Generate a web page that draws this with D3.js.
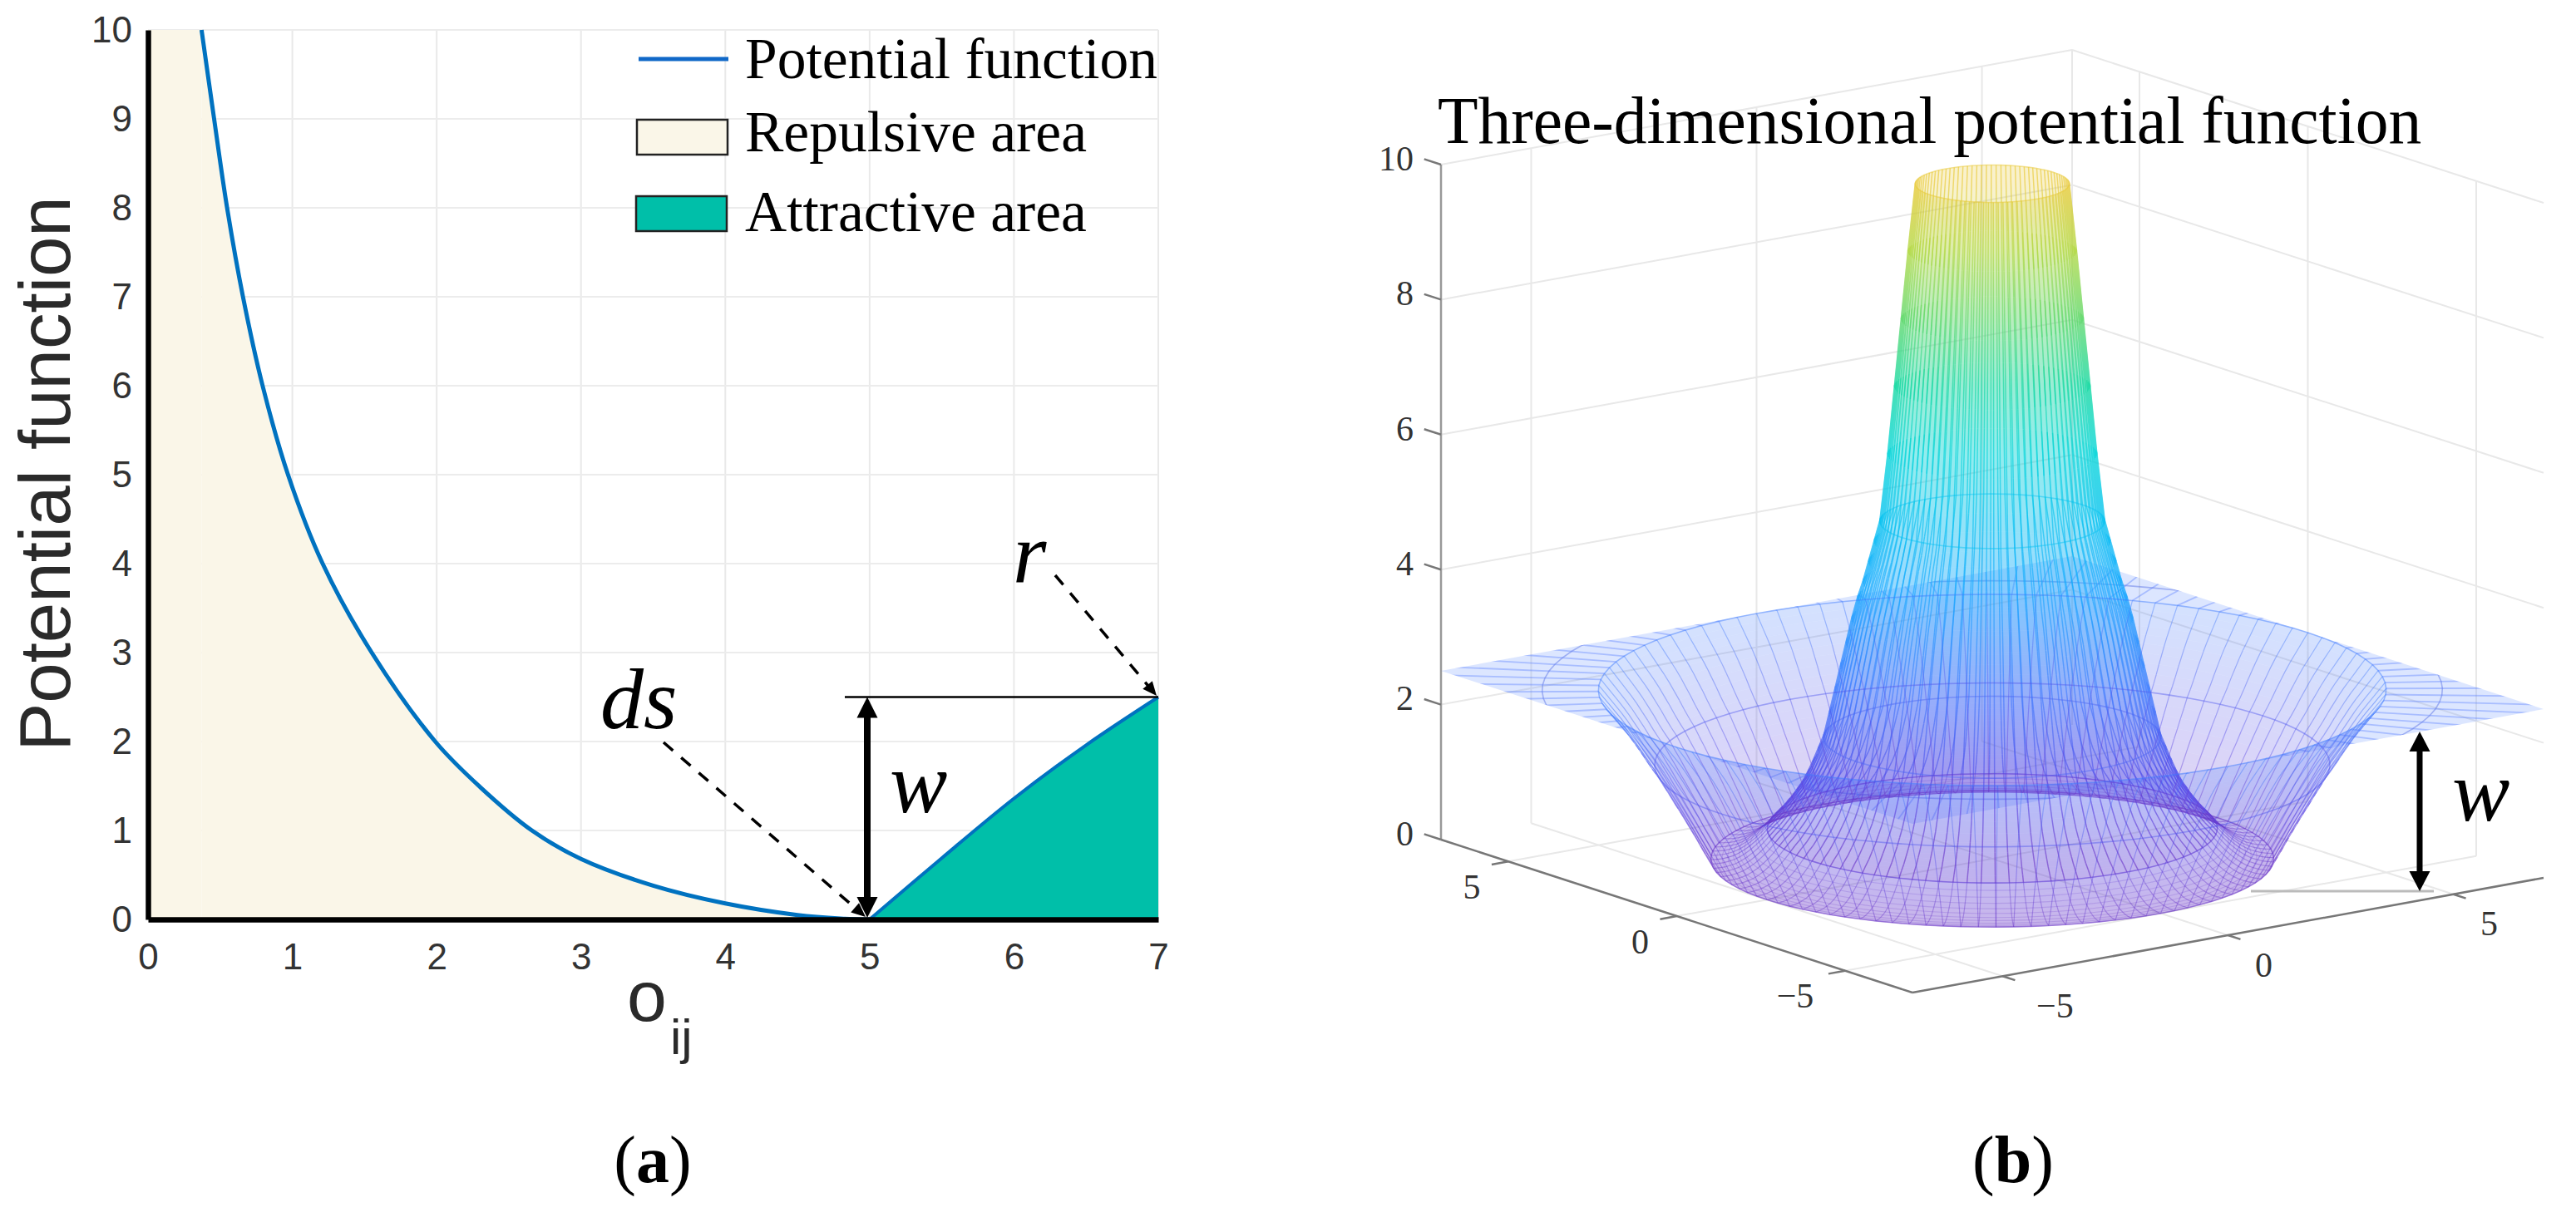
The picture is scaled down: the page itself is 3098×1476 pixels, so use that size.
<!DOCTYPE html>
<html>
<head>
    <meta charset="utf-8">
    <title>Potential function</title>
    <style type="text/css">
    html, body { margin:0; padding:0; background:#fff; }
    svg { display:block; }
    .serif { font-family:"Liberation Serif", serif; }
    .sans { font-family:"Liberation Sans", sans-serif; }
    </style>
</head>
<body>
    <script src="https://d3js.org/d3.v7.min.js"></script>
    <script>
      // panel (a): potential curve
      var repulsiveX = [0.371, 0.458, 0.548, 0.658, 0.794, 0.97, 1.21, 1.55, 1.99, 2.3, 2.66, 3, 3.5, 4, 4.5, 4.8, 5];
      var repulsiveY = [10, 9, 8, 7, 6, 5, 4, 3, 2, 1.49, 1, 0.68, 0.38, 0.18, 0.05, 0.01, 0];
      var attractiveX = [5, 5.5, 6, 6.5, 7];
      var attractiveY = [0, 0.69, 1.36, 1.96, 2.5];
      var xTicks2d = [0, 1, 2, 3, 4, 5, 6, 7];
      var yTicks2d = [0, 1, 2, 3, 4, 5, 6, 7, 8, 9, 10];
      var legendLabels = ["Potential function", "Repulsive area", "Attractive area"];

      // panel (b): radial profile of the surface, radius and height
      var neckR = [1.37, 1.5, 1.62, 1.74, 1.86, 2, 2.1, 2.2, 2.3, 2.4, 2.5, 2.6, 2.7, 2.8, 2.9, 3, 3.1, 3.2, 3.3, 3.4, 3.5, 3.6, 3.7, 3.8, 3.9, 4];
      var neckZ = [10, 9, 8, 7, 6, 5, 4.7, 4.4, 4.1, 3.85, 3.55, 3.2, 2.85, 2.5, 2.15, 1.8, 1.6, 1.4, 1.22, 1.06, 0.94, 0.82, 0.72, 0.62, 0.54, 0.45];
      var baseR = [4, 4.1, 4.2, 4.3, 4.4, 4.5, 4.6, 4.7, 4.8, 4.9, 5];
      var baseZ = [0.45, 0.36, 0.28, 0.21, 0.15, 0.1, 0.06, 0.035, 0.015, 0.005, 0];
      var wallR = [5, 5.1, 5.2, 5.3, 5.4, 5.5, 5.6, 5.7, 5.8, 5.9, 6, 6.1, 6.2, 6.3, 6.4, 6.5, 6.6, 6.7, 6.8, 6.9, 7];
      var wallZ = [0, 0.14, 0.28, 0.43, 0.57, 0.71, 0.85, 0.98, 1.12, 1.25, 1.39, 1.5, 1.62, 1.75, 1.87, 1.99, 2.1, 2.2, 2.3, 2.4, 2.5];
      var planeZ = 2.5;
      var planeOuterR = 10;
      var planeRingR = 8;
      var ringRadii = [1.37, 2, 3, 4, 5, 6, 7];
      var floorTicks = [-5, 0, 5];
      var zTicks = [0, 2, 4, 6, 8, 10];
      var colorStopsZ = [0, 1, 2.5, 4, 5, 6, 7, 8, 9, 10];
      var colorStops = ["#6a35c8", "#5548e8", "#3f7dff", "#14a8ff", "#00c0f0", "#00d4d8", "#10d8a0", "#5cd868", "#b0d840", "#e8c830"];

      var svg = d3.select("body")
          .append("svg")
          .attr("width", 3098)
          .attr("height", 1476)
          .attr("viewBox", "0 0 3098 1476");

      /* ---------- panel (a) ---------- */
      var xScale = d3.scaleLinear().domain([0, 7]).range([178, 1393]);
      var yScale = d3.scaleLinear().domain([0, 10]).range([1106, 36]);
      var left = svg.append("g");

      left.selectAll(".gridx")
          .data(xTicks2d.slice(1))
          .enter().append("line")
          .attr("x1", function(d){ return xScale(d); })
          .attr("x2", function(d){ return xScale(d); })
          .attr("y1", yScale(0))
          .attr("y2", yScale(10))
          .attr("stroke", "#e9e9e9")
          .attr("stroke-width", 2);

      left.selectAll(".gridy")
          .data(yTicks2d.slice(1))
          .enter().append("line")
          .attr("x1", xScale(0))
          .attr("x2", xScale(7))
          .attr("y1", function(d){ return yScale(d); })
          .attr("y2", function(d){ return yScale(d); })
          .attr("stroke", "#ececec")
          .attr("stroke-width", 2);

      var repulsive = repulsiveX.map(function(d, i){ return [d, repulsiveY[i]]; });
      var attractive = attractiveX.map(function(d, i){ return [d, attractiveY[i]]; });

      var area = d3.area()
          .x(function(d){ return xScale(d[0]); })
          .y0(yScale(0))
          .y1(function(d){ return yScale(d[1]); })
          .curve(d3.curveCatmullRom.alpha(0.5));

      var line = d3.line()
          .x(function(d){ return xScale(d[0]); })
          .y(function(d){ return yScale(d[1]); })
          .curve(d3.curveCatmullRom.alpha(0.5));

      left.append("rect")
          .attr("x", xScale(0))
          .attr("y", yScale(10))
          .attr("width", xScale(repulsiveX[0]) - xScale(0))
          .attr("height", yScale(0) - yScale(10))
          .attr("fill", "#faf6e8");

      left.append("path")
          .attr("d", area(repulsive))
          .attr("fill", "#faf6e8");

      left.append("path")
          .attr("d", area(attractive))
          .attr("fill", "#00bfa9");

      left.append("path")
          .attr("d", line(repulsive))
          .attr("fill", "none")
          .attr("stroke", "#0072c0")
          .attr("stroke-width", 5);

      left.append("path")
          .attr("d", line(attractive))
          .attr("fill", "none")
          .attr("stroke", "#0072c0")
          .attr("stroke-width", 4);

      // axes
      var xAxisG = left.append("g")
          .attr("transform", "translate(0," + yScale(0) + ")")
          .call(d3.axisBottom(xScale).tickValues(xTicks2d).tickSize(0).tickPadding(29).tickFormat(d3.format("d")));
      var yAxisG = left.append("g")
          .attr("transform", "translate(" + xScale(0) + ",0)")
          .call(d3.axisLeft(yScale).tickValues(yTicks2d).tickSize(0).tickPadding(19).tickFormat(d3.format("d")));

      [xAxisG, yAxisG].forEach(function(g){
        g.attr("font-family", "Liberation Sans").attr("font-size", 44);
        g.select(".domain").attr("stroke", "#000").attr("stroke-width", 6.5);
        g.selectAll("text").attr("fill", "#333");
      });

      left.append("text")
          .attr("class", "sans")
          .attr("transform", "translate(84,570) rotate(-90)")
          .attr("text-anchor", "middle")
          .attr("font-size", 87)
          .attr("fill", "#2a2a2a")
          .text("Potential function");

      left.append("text").attr("class", "sans")
          .attr("x", 754).attr("y", 1228)
          .attr("font-size", 86).attr("fill", "#2a2a2a")
          .text("o");
      left.append("text").attr("class", "sans")
          .attr("x", 806).attr("y", 1268)
          .attr("font-size", 60).attr("fill", "#2a2a2a")
          .text("ij");

      function arrowHead(g, x1, y1, x2, y2, hw, hl) {
        var a = Math.atan2(y2 - y1, x2 - x1),
            bx = x2 - hl * Math.cos(a),
            by = y2 - hl * Math.sin(a),
            nx = -Math.sin(a) * hw / 2,
            ny = Math.cos(a) * hw / 2;
        g.append("polygon")
            .attr("points", [[x2, y2], [bx + nx, by + ny], [bx - nx, by - ny]].join(" "))
            .attr("fill", "#000");
      }

      function doubleArrow(g, x, y1, y2, sw, hw, hl) {
        g.append("line")
            .attr("x1", x).attr("x2", x)
            .attr("y1", y1 + hl / 2).attr("y2", y2 - hl / 2)
            .attr("stroke", "#000").attr("stroke-width", sw);
        arrowHead(g, x, y2, x, y1, hw, hl);
        arrowHead(g, x, y1, x, y2, hw, hl);
      }

      function dashedArrow(g, x1, y1, x2, y2) {
        var a = Math.atan2(y2 - y1, x2 - x1);
        g.append("line")
            .attr("x1", x1).attr("y1", y1)
            .attr("x2", x2 - 12 * Math.cos(a)).attr("y2", y2 - 12 * Math.sin(a))
            .attr("stroke", "#000").attr("stroke-width", 3.5)
            .attr("stroke-dasharray", "15,13");
        arrowHead(g, x1, y1, x2, y2, 15, 17);
      }

      // annotations
      left.append("line")
          .attr("x1", 1016).attr("x2", xScale(7))
          .attr("y1", yScale(2.5)).attr("y2", yScale(2.5))
          .attr("stroke", "#000").attr("stroke-width", 2.5);
      doubleArrow(left, 1043, yScale(2.5), 1104, 8, 25, 25);
      dashedArrow(left, 1269, 692, 1391, 837);
      dashedArrow(left, 798, 893, 1041, 1103);

      left.append("text").attr("class", "serif")
          .attr("x", 722).attr("y", 876)
          .attr("font-size", 104).attr("font-style", "italic")
          .text("ds");
      left.append("text").attr("class", "serif")
          .attr("x", 1218).attr("y", 701)
          .attr("font-size", 104).attr("font-style", "italic")
          .text("r");
      left.append("text").attr("class", "serif")
          .attr("x", 1070).attr("y", 977)
          .attr("font-size", 104).attr("font-style", "italic")
          .text("w");

      // legend
      left.append("line")
          .attr("x1", 768).attr("x2", 876)
          .attr("y1", 71).attr("y2", 71)
          .attr("stroke", "#1068c8").attr("stroke-width", 5);
      left.append("rect")
          .attr("x", 766).attr("y", 144).attr("width", 109).attr("height", 42)
          .attr("fill", "#faf6e8").attr("stroke", "#222").attr("stroke-width", 2.5);
      left.append("rect")
          .attr("x", 765).attr("y", 236).attr("width", 109).attr("height", 42)
          .attr("fill", "#00bfa9").attr("stroke", "#222").attr("stroke-width", 2.5);
      left.selectAll(".legendtext")
          .data(legendLabels)
          .enter().append("text")
          .attr("class", "serif")
          .attr("x", 896)
          .attr("y", function(d, i){ return [94, 182, 278][i]; })
          .attr("font-size", 69.5)
          .attr("fill", "#000")
          .text(function(d){ return d; });

      left.append("text").attr("class", "serif")
          .attr("x", 785).attr("y", 1422)
          .attr("text-anchor", "middle").attr("font-size", 80)
          .html('(<tspan font-weight="bold">a</tspan>)');

      /* ---------- panel (b) ---------- */
      // orthographic view, one scale per screen contribution
      var originX = 2396, originY = 1033;
      var xToSx = d3.scaleLinear().domain([-7, 7]).range([-379.5, 379.5]);
      var xToSy = d3.scaleLinear().domain([-7, 7]).range([69, -69]);
      var yToSx = d3.scaleLinear().domain([-7, 7]).range([283.5, -283.5]);
      var yToSy = d3.scaleLinear().domain([-7, 7]).range([92, -92]);
      var zToSy = d3.scaleLinear().domain([0, 10]).range([0, -812]);
      var zColor = d3.scaleLinear().domain(colorStopsZ).range(colorStops).clamp(true);

      function project(x, y, z) {
        return [originX + xToSx(x) + yToSx(y), originY + xToSy(x) + yToSy(y) + zToSy(z)];
      }
      function polar(r, t, z) {
        return project(r * Math.cos(t), r * Math.sin(t), z);
      }
      function segment(a, b) {
        return "M" + a[0] + "," + a[1] + "L" + b[0] + "," + b[1];
      }

      var right = svg.append("g");
      var defs = svg.append("defs");

      // vertical colour ramp so that the tall neck has no visible bands
      defs.append("linearGradient")
          .attr("id", "zramp")
          .attr("gradientUnits", "userSpaceOnUse")
          .attr("x1", 0).attr("x2", 0)
          .attr("y1", originY + zToSy(0))
          .attr("y2", originY + zToSy(10))
          .selectAll("stop")
          .data(colorStopsZ)
          .enter().append("stop")
          .attr("offset", function(d){ return d / 10; })
          .attr("stop-color", function(d, i){ return colorStops[i]; });

      // box grid
      var gridPaths = [];
      floorTicks.forEach(function(t){
        gridPaths.push(segment(project(t, -7, 0), project(t, 7, 0)));
        gridPaths.push(segment(project(-7, t, 0), project(7, t, 0)));
        gridPaths.push(segment(project(t, 7, 0), project(t, 7, 10)));
        gridPaths.push(segment(project(7, t, 0), project(7, t, 10)));
      });
      zTicks.slice(1).forEach(function(t){
        gridPaths.push(segment(project(-7, 7, t), project(7, 7, t)));
        gridPaths.push(segment(project(7, 7, t), project(7, -7, t)));
      });
      gridPaths.push(segment(project(7, 7, 0), project(7, 7, 10)));

      right.append("path")
          .attr("d", gridPaths.join(""))
          .attr("fill", "none")
          .attr("stroke", "#e8e8e8")
          .attr("stroke-width", 2);

      // axes
      right.append("path")
          .attr("d", segment(project(-7, 7, 0), project(-7, 7, 10)))
          .attr("stroke", "#999").attr("stroke-width", 2.5);
      right.append("path")
          .attr("d", segment(project(-7, 7, 0), project(-7, -7, 0)) + segment(project(-7, -7, 0), project(7, -7, 0)))
          .attr("fill", "none").attr("stroke", "#777").attr("stroke-width", 2.5);

      var tickPaths = [];
      zTicks.forEach(function(t){
        tickPaths.push(segment(project(-7, 7, t), project(-7, 7.5, t)));
      });
      floorTicks.forEach(function(t){
        tickPaths.push(segment(project(-7, t, 0), project(-7.37, t, 0)));
        tickPaths.push(segment(project(t, -7, 0), project(t, -7.37, 0)));
      });
      right.append("path")
          .attr("d", tickPaths.join(""))
          .attr("fill", "none").attr("stroke", "#777").attr("stroke-width", 2.5);

      function tickText(d) { return d < 0 ? "\u2212" + Math.abs(d) : "" + d; }

      right.selectAll(".zlabel")
          .data(zTicks)
          .enter().append("text")
          .attr("class", "serif")
          .attr("x", 1700)
          .attr("y", function(d){ return project(-7, 7, d)[1] - 8; })
          .attr("dy", ".35em")
          .attr("text-anchor", "end")
          .attr("font-size", 42).attr("fill", "#333")
          .text(tickText);

      right.selectAll(".ylabel")
          .data(floorTicks)
          .enter().append("text")
          .attr("class", "serif")
          .attr("x", function(d){ return project(-7, d, 0)[0] - (d < 0 ? 60 : 44); })
          .attr("y", function(d){ return project(-7, d, 0)[1] + 30; })
          .attr("dy", ".35em")
          .attr("text-anchor", "middle")
          .attr("font-size", 42).attr("fill", "#333")
          .text(tickText);

      right.selectAll(".xlabel")
          .data(floorTicks)
          .enter().append("text")
          .attr("class", "serif")
          .attr("x", function(d){ return project(d, -7, 0)[0] + (d < 0 ? 63 : 43); })
          .attr("y", function(d){ return project(d, -7, 0)[1] + 35; })
          .attr("dy", ".35em")
          .attr("text-anchor", "middle")
          .attr("font-size", 42).attr("fill", "#333")
          .text(tickText);

      // surface
      var angles = d3.range(0, 100).map(function(d){ return d * 2 * Math.PI / 100; });
      var isFront = function(t){ return polar(1, t, 0)[1] > originY; };
      var frontAngles = angles.filter(isFront);
      var backAngles = angles.filter(function(t){ return !isFront(t); });
      var step = angles[1];

      function bandFill(r0, z0, r1, z1, list) {
        return list.map(function(t){
          return "M" + [polar(r0, t, z0), polar(r0, t + step, z0), polar(r1, t + step, z1), polar(r1, t, z1)].join("L") + "Z";
        }).join("");
      }

      function bandColor(z0, z1) {
        return zColor((z0 + z1) / 2);
      }

      function drawSurface(parent, rs, zs, list, opacity, paint) {
        var g = parent.append("g").attr("opacity", opacity);
        d3.range(rs.length - 1).forEach(function(i){
          var c = paint || bandColor(zs[i], zs[i + 1]);
          g.append("path")
              .attr("d", bandFill(rs[i], zs[i], rs[i + 1], zs[i + 1], list))
              .attr("fill", c)
              .attr("stroke", c)
              .attr("stroke-width", 0.6);
        });
      }

      function drawRadials(parent, rs, zs, strokeOpacity, width, paint) {
        d3.range(rs.length - 1).forEach(function(i){
          parent.append("path")
              .attr("d", angles.map(function(t){
                return segment(polar(rs[i], t, zs[i]), polar(rs[i + 1], t, zs[i + 1]));
              }).join(""))
              .attr("fill", "none")
              .attr("stroke", paint || bandColor(zs[i], zs[i + 1]))
              .attr("stroke-opacity", strokeOpacity)
              .attr("stroke-width", width);
        });
      }

      function ringPath(r, z) {
        return "M" + angles.map(function(t){ return polar(r, t, z); }).join("L") + "Z";
      }

      // flat part of the surface, cut by the square of the box
      defs.append("clipPath").attr("id", "plane-clip")
          .append("polygon")
          .attr("points", [project(-7, -7, planeZ), project(7, -7, planeZ), project(7, 7, planeZ), project(-7, 7, planeZ)].join(" "));

      var plane = right.append("g").attr("clip-path", "url(#plane-clip)");
      plane.append("path")
          .attr("d", ringPath(planeOuterR, planeZ) + ringPath(wallR[wallR.length - 1], planeZ))
          .attr("fill-rule", "evenodd")
          .attr("fill", "#5f8dff")
          .attr("fill-opacity", 0.22);
      plane.append("path")
          .attr("d", angles.map(function(t){
            return segment(polar(7, t, planeZ), polar(planeOuterR, t, planeZ));
          }).join(""))
          .attr("fill", "none").attr("stroke", "#5a80ff")
          .attr("stroke-opacity", 0.4).attr("stroke-width", 1.8);
      plane.append("path")
          .attr("d", ringPath(planeRingR, planeZ))
          .attr("fill", "none").attr("stroke", "#5f78e8")
          .attr("stroke-opacity", 0.5).attr("stroke-width", 1.6);

      var mesh = right.append("g");
      drawSurface(mesh, wallR, wallZ, backAngles, 0.22);
      drawSurface(mesh, baseR, baseZ, backAngles, 0.2);
      drawSurface(mesh, neckR, neckZ, backAngles, 0.24, "url(#zramp)");
      drawSurface(mesh, neckR, neckZ, frontAngles, 0.24, "url(#zramp)");
      drawSurface(mesh, baseR, baseZ, frontAngles, 0.2);
      drawSurface(mesh, wallR, wallZ, frontAngles, 0.2);

      drawRadials(mesh, neckR, neckZ, 0.62, 1.5, "url(#zramp)");
      drawRadials(mesh, baseR, baseZ, 0.4, 1.2);
      drawRadials(mesh, wallR, wallZ, 0.42, 1.2);

      // rings, dense on the base of the well
      baseR.forEach(function(r, i){
        mesh.append("path")
            .attr("d", ringPath(r, baseZ[i]))
            .attr("fill", "none")
            .attr("stroke", zColor(baseZ[i]))
            .attr("stroke-opacity", 0.22)
            .attr("stroke-width", 1.1);
      });
      var allR = neckR.concat(baseR, wallR), allZ = neckZ.concat(baseZ, wallZ);
      ringRadii.forEach(function(r){
        var z = allZ[allR.indexOf(r)];
        mesh.append("path")
            .attr("d", ringPath(r, z))
            .attr("fill", "none")
            .attr("stroke", zColor(z))
            .attr("stroke-opacity", 0.45)
            .attr("stroke-width", 1.6);
      });

      right.append("text").attr("class", "serif")
          .attr("x", 1729).attr("y", 172)
          .attr("font-size", 79.5).attr("fill", "#000")
          .text("Three-dimensional potential function");

      right.append("line")
          .attr("x1", 2707).attr("x2", 2927)
          .attr("y1", 1072).attr("y2", 1072)
          .attr("stroke", "#bbb").attr("stroke-width", 3);
      doubleArrow(right, 2910, 880, 1072, 7, 25, 24);
      right.append("text").attr("class", "serif")
          .attr("x", 2949).attr("y", 987)
          .attr("font-size", 104).attr("font-style", "italic")
          .text("w");

      right.append("text").attr("class", "serif")
          .attr("x", 2421).attr("y", 1422)
          .attr("text-anchor", "middle").attr("font-size", 80)
          .html('(<tspan font-weight="bold">b</tspan>)');
    </script>
</body>
</html>
